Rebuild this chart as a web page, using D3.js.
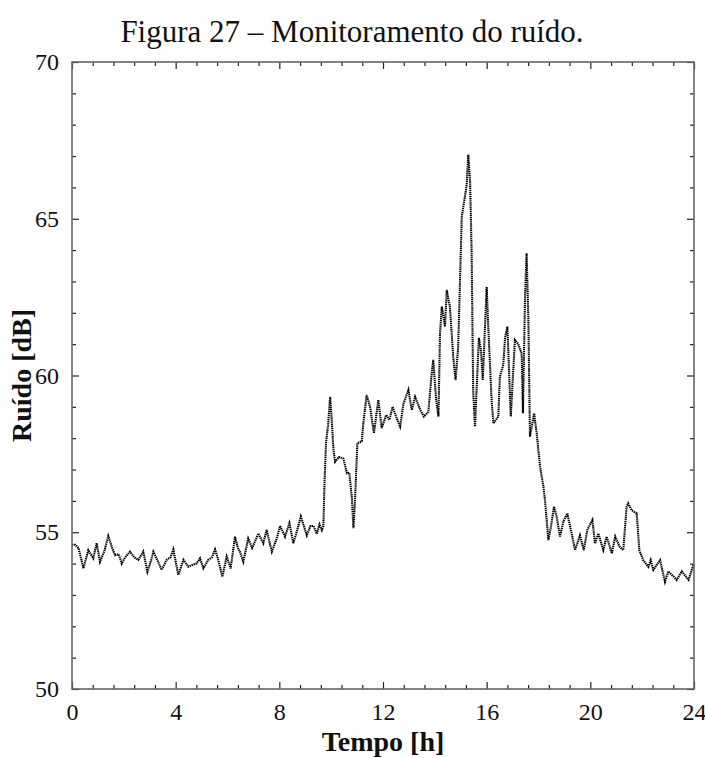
<!DOCTYPE html>
<html>
<head>
<meta charset="utf-8">
<script src="https://cdn.jsdelivr.net/npm/d3@7.9.0/dist/d3.min.js"></script>
<style>
  body { margin: 0; background: #fff; }
  svg text { font-family: 'Liberation Serif', 'Times New Roman', serif; fill: #111; }
</style>
</head>
<body>
<svg id="chart" width="705" height="758"></svg>
<script>
// noise readings over the day (hours, dB)
const hours = [
  0.00, 0.12, 0.25, 0.44, 0.63, 0.82, 0.95, 1.08, 1.25, 1.40, 1.55, 1.66, 1.80, 1.92,
  2.05, 2.24, 2.40, 2.56, 2.75, 2.91, 3.05, 3.14, 3.30, 3.46, 3.65, 3.80, 3.91, 4.10,
  4.30, 4.49, 4.62, 4.80, 4.94, 5.07, 5.26, 5.40, 5.52, 5.65, 5.80, 5.97, 6.12, 6.29,
  6.40, 6.48, 6.61, 6.80, 6.95, 7.06, 7.19, 7.38, 7.51, 7.71, 7.90, 8.03, 8.22, 8.39,
  8.54, 8.69, 8.83, 9.06, 9.20, 9.32, 9.45, 9.55, 9.64, 9.70, 9.74, 9.80, 9.88, 9.96,
  10.02, 10.09, 10.15, 10.30, 10.47, 10.61, 10.70, 10.80, 10.86, 10.92, 11.01, 11.18,
  11.24, 11.37, 11.50, 11.65, 11.82, 11.95, 12.12, 12.25, 12.37, 12.53, 12.66, 12.79,
  12.98, 13.11, 13.24, 13.44, 13.58, 13.75, 13.88, 13.94, 14.05, 14.14, 14.20, 14.27,
  14.33, 14.39, 14.46, 14.58, 14.71, 14.80, 14.90, 15.04, 15.16, 15.23, 15.29, 15.36,
  15.42, 15.48, 15.55, 15.61, 15.70, 15.78, 15.85, 16.00, 16.05, 16.19, 16.26, 16.45,
  16.51, 16.64, 16.71, 16.80, 16.93, 17.09, 17.22, 17.35, 17.40, 17.48, 17.54, 17.61,
  17.67, 17.83, 17.93, 18.06, 18.19, 18.25, 18.38, 18.47, 18.60, 18.70, 18.83, 18.96,
  19.11, 19.28, 19.41, 19.60, 19.75, 19.88, 20.08, 20.18, 20.31, 20.50, 20.63, 20.83,
  20.96, 21.13, 21.27, 21.40, 21.46, 21.60, 21.79, 21.89, 22.04, 22.24, 22.33, 22.43,
  22.69, 22.88, 23.01, 23.20, 23.33, 23.53, 23.79, 23.98
];
const noise = [
  54.6, 54.6, 54.5, 53.85, 54.43, 54.17, 54.65, 54.06, 54.4, 54.88, 54.5, 54.27, 54.3, 54.0,
  54.2, 54.38, 54.2, 54.12, 54.38, 53.74, 54.1, 54.38, 54.1, 53.8, 54.12, 54.2, 54.45, 53.64,
  54.12, 53.9, 53.95, 54.0, 54.17, 53.85, 54.12, 54.2, 54.45, 54.1, 53.58, 54.22, 53.85, 54.86,
  54.5, 54.38, 54.06, 54.8, 54.5, 54.7, 54.96, 54.65, 55.07, 54.38, 54.8, 55.2, 54.86, 55.29,
  54.65, 55.07, 55.5, 54.9, 55.2, 55.2, 54.95, 55.25, 55.07, 55.2, 56.5, 57.84, 58.4, 59.32,
  58.6, 57.62, 57.25, 57.4, 57.35, 56.88, 56.9, 56.08, 55.13, 56.0, 57.84, 57.9,
  58.47, 59.38, 59.0, 58.16, 59.22, 58.32, 58.74, 58.59, 59.0, 58.64, 58.37, 59.1,
  59.54, 58.9, 59.32, 58.9, 58.69, 58.84, 60.07, 60.5, 59.22, 58.69, 61.35, 62.2,
  61.9, 61.56, 62.73, 62.2, 60.6, 59.85, 60.9, 65.07, 65.7, 66.08, 67.05, 66.2,
  63.9, 59.5, 58.37, 59.54, 61.2, 60.8, 59.86, 62.83, 61.77, 59.22, 58.47, 58.69,
  59.96, 60.34, 61.2, 61.56, 58.69, 61.13, 61.0, 60.7, 58.8, 62.5, 63.9, 61.77,
  58.05, 58.79, 58.16, 57.1, 56.45, 56.03, 54.75, 55.13, 55.82, 55.5, 54.86, 55.34,
  55.6, 54.96, 54.43, 54.9, 54.43, 55.07, 55.39, 54.64, 54.96, 54.43, 54.86, 54.33,
  54.86, 54.54, 54.43, 55.82, 55.92, 55.7, 55.6, 54.43, 54.11, 53.9, 54.11, 53.8,
  54.11, 53.42, 53.75, 53.6, 53.48, 53.75, 53.48, 53.96
];
const xMajor = [0, 4, 8, 12, 16, 20, 24];
const yMajor = [50, 55, 60, 65, 70];

const title = 'Figura 27 – Monitoramento do ruído.';
const xLabel = 'Tempo [h]';
const yLabel = 'Ruído [dB]';

const svg = d3.select('#chart');
const margin = { left: 72, right: 11, top: 62, bottom: 69 };
const W = 705, H = 758;

const x = d3.scaleLinear().domain([0, 24]).range([margin.left, W - margin.right]);
const y = d3.scaleLinear().domain([50, 70]).range([H - margin.bottom, margin.top]);

const xMinor = d3.range(0, 24.001, 0.8).filter((v) => !xMajor.some((m) => Math.abs(m - v) < 1e-6));
const yMinor = d3.range(50, 70.001, 1).filter((v) => v % 5 !== 0);

// title
svg.append('text')
  .attr('x', 352).attr('y', 42)
  .attr('text-anchor', 'middle')
  .style('font-size', '31px')
  .text(title);

// data line
const line = d3.line()
  .x((d, i) => x(hours[i]))
  .y((d) => y(d));

svg.append('path')
  .datum(noise)
  .attr('d', line)
  .attr('fill', 'none')
  .attr('stroke', '#000')
  .attr('stroke-width', 2.1)
  .attr('stroke-dasharray', '1.4 0.7');

// ticks, drawn inward on all four sides
function addAxis(axisGen, transform, labels) {
  const g = svg.append('g').attr('transform', transform).call(axisGen);
  g.select('.domain').remove();
  g.selectAll('line').attr('stroke', '#222').attr('stroke-width', 1.2);
  if (!labels) g.selectAll('text').remove();
  return g;
}

const bottomY = H - margin.bottom, topY = margin.top;
const leftX = margin.left, rightX = W - margin.right;

addAxis(d3.axisBottom(x).tickValues(xMinor).tickSize(-4).tickFormat(''), `translate(0,${bottomY})`, false);
addAxis(d3.axisTop(x).tickValues(xMinor).tickSize(-4).tickFormat(''), `translate(0,${topY})`, false);
addAxis(d3.axisLeft(y).tickValues(yMinor).tickSize(-4).tickFormat(''), `translate(${leftX},0)`, false);
addAxis(d3.axisRight(y).tickValues(yMinor).tickSize(-4).tickFormat(''), `translate(${rightX},0)`, false);

const gxb = addAxis(d3.axisBottom(x).tickValues(xMajor).tickSize(-7).tickPadding(14).tickFormat(d3.format('d')), `translate(0,${bottomY})`, true);
addAxis(d3.axisTop(x).tickValues(xMajor).tickSize(-7).tickFormat(''), `translate(0,${topY})`, false);
const gyl = addAxis(d3.axisLeft(y).tickValues(yMajor).tickSize(-7).tickPadding(13).tickFormat(d3.format('d')), `translate(${leftX},0)`, true);
addAxis(d3.axisRight(y).tickValues(yMajor).tickSize(-7).tickFormat(''), `translate(${rightX},0)`, false);

gxb.selectAll('text').style('font-size', '24px').attr('font-family', 'Liberation Serif').attr('fill', '#111');
gyl.selectAll('text').style('font-size', '24px').attr('font-family', 'Liberation Serif').attr('fill', '#111');

// frame
svg.append('rect')
  .attr('x', leftX).attr('y', topY)
  .attr('width', rightX - leftX).attr('height', bottomY - topY)
  .attr('fill', 'none')
  .attr('stroke', '#666')
  .attr('stroke-width', 1.6);

// axis titles
svg.append('text')
  .attr('x', (leftX + rightX) / 2).attr('y', 751)
  .attr('text-anchor', 'middle')
  .style('font-size', '28px').style('font-weight', 'bold')
  .text(xLabel);

svg.append('text')
  .attr('transform', `translate(31,${(topY + bottomY) / 2}) rotate(-90)`)
  .attr('text-anchor', 'middle')
  .style('font-size', '28px').style('font-weight', 'bold')
  .text(yLabel);
</script>
</body>
</html>
